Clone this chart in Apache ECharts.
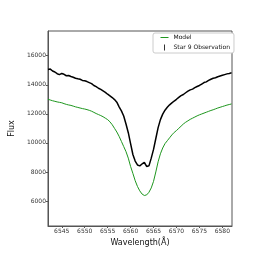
<!DOCTYPE html>
<html>
<head>
<meta charset="utf-8">
<script src="https://cdn.jsdelivr.net/npm/echarts@6/dist/echarts.min.js"></script>
<style>html,body{margin:0;padding:0;background:#fff}#c{width:258px;height:258px}</style>
</head>
<body>
<div id="c"></div>
<script>
// Wavelength grid (Å), 0.5 Å steps
const wavelength = [6542.0,6542.5,6543.0,6543.5,6544.0,6544.5,6545.0,6545.5,6546.0,6546.5,6547.0,6547.5,6548.0,6548.5,6549.0,6549.5,6550.0,6550.5,6551.0,6551.5,6552.0,6552.5,6553.0,6553.5,6554.0,6554.5,6555.0,6555.5,6556.0,6556.5,6557.0,6557.5,6558.0,6558.5,6559.0,6559.5,6560.0,6560.5,6561.0,6561.5,6562.0,6562.5,6563.0,6563.5,6564.0,6564.5,6565.0,6565.5,6566.0,6566.5,6567.0,6567.5,6568.0,6568.5,6569.0,6569.5,6570.0,6570.5,6571.0,6571.5,6572.0,6572.5,6573.0,6573.5,6574.0,6574.5,6575.0,6575.5,6576.0,6576.5,6577.0,6577.5,6578.0,6578.5,6579.0,6579.5,6580.0,6580.5,6581.0,6581.5,6582.0];
// Star 9 observation flux
const observationFlux = [15050,15080,14950,14880,14760,14700,14780,14720,14620,14640,14570,14520,14450,14410,14380,14300,14270,14220,14150,14080,13950,13870,13760,13680,13580,13480,13350,13240,13120,12980,12800,12480,12200,11850,11300,10700,9950,9200,8750,8480,8420,8550,8650,8380,8420,8950,9550,10300,11050,11600,11980,12250,12450,12620,12750,12880,13000,13130,13250,13330,13450,13560,13650,13700,13800,13880,13950,14050,14150,14200,14300,14380,14450,14480,14550,14600,14650,14700,14750,14780,14820];
// Model flux
const modelFlux = [13000,12950,12900,12860,12820,12790,12760,12700,12650,12610,12580,12530,12480,12440,12400,12360,12330,12290,12240,12180,12100,12020,11950,11880,11800,11700,11600,11450,11250,11000,10750,10450,10100,9750,9400,8950,8380,7900,7400,7000,6700,6480,6380,6420,6600,6900,7350,8000,8700,9250,9650,9950,10150,10350,10550,10720,10850,11000,11150,11300,11420,11520,11620,11700,11780,11860,11930,11990,12050,12110,12170,12230,12280,12340,12400,12450,12500,12550,12600,12640,12680];
// Tick labels
const xTicks = [6545,6550,6555,6560,6565,6570,6575,6580];
const yTicks = [6000,8000,10000,12000,14000,16000];
const seriesNames = ['Model','Star 9 Observation'];

const modelData = wavelength.map((w,i)=>[w, modelFlux[i]]);
const obsData = wavelength.map((w,i)=>[w, observationFlux[i]]);

const font = 'DejaVu Sans';
const green = '#1e961e';
const plain = v => String(v);
const chart = echarts.init(document.getElementById('c'), null, {renderer:'canvas'});
chart.setOption({
  animation:false,
  backgroundColor:'#fff',
  grid:{left:32, right:26, top:31, bottom:32, show:true, borderColor:'#555', borderWidth:1, backgroundColor:'transparent'},
  legend:{
    orient:'vertical', left:153, top:33,
    padding:[1,4,2,7], itemGap:3, itemWidth:8, itemHeight:7,
    borderColor:'#ccc', borderWidth:1, borderRadius:2, backgroundColor:'#fff',
    textStyle:{fontFamily:font, fontSize:6, color:'#111', lineHeight:7},
    data:[
      {name:seriesNames[0], itemStyle:{opacity:0}, lineStyle:{color:green, width:1}},
      {name:seriesNames[1], icon:'path://M0,0 M3.6,0.5 L4.4,0.5 L4.4,6.5 L3.6,6.5 Z M8,7',
       itemStyle:{color:'#000', borderWidth:0}}
    ]
  },
  xAxis:{
    type:'value', min:6542, max:6582.1,
    name:'Wavelength(Å)', nameLocation:'middle', nameGap:9,
    nameTextStyle:{fontFamily:font, fontSize:8, color:'#111'},
    axisLine:{show:true, lineStyle:{color:'#555', width:1}},
    axisTick:{show:true, length:2, lineStyle:{color:'#555'}, customValues:xTicks},
    axisLabel:{fontFamily:font, fontSize:6, color:'#333', margin:2, customValues:xTicks, formatter:plain},
    splitLine:{show:false}
  },
  yAxis:{
    type:'value', min:4280, max:17700,
    name:'Flux', nameLocation:'middle', nameGap:22,
    nameTextStyle:{fontFamily:font, fontSize:8, color:'#111'},
    axisLine:{show:true, lineStyle:{color:'#555', width:1}},
    axisTick:{show:true, length:2, lineStyle:{color:'#555'}, customValues:yTicks},
    axisLabel:{fontFamily:font, fontSize:6, color:'#333', margin:2, customValues:yTicks, formatter:plain},
    splitLine:{show:false}
  },
  series:[
    {name:seriesNames[0], type:'line', data:modelData, showSymbol:false, symbol:'none',
     lineStyle:{color:green, width:1}, itemStyle:{color:green}, z:3},
    {name:seriesNames[1], type:'line', data:obsData, showSymbol:false, symbol:'none',
     lineStyle:{color:'#000', width:1.5}, itemStyle:{color:'#000'}, z:2}
  ]
});
</script>
</body>
</html>
